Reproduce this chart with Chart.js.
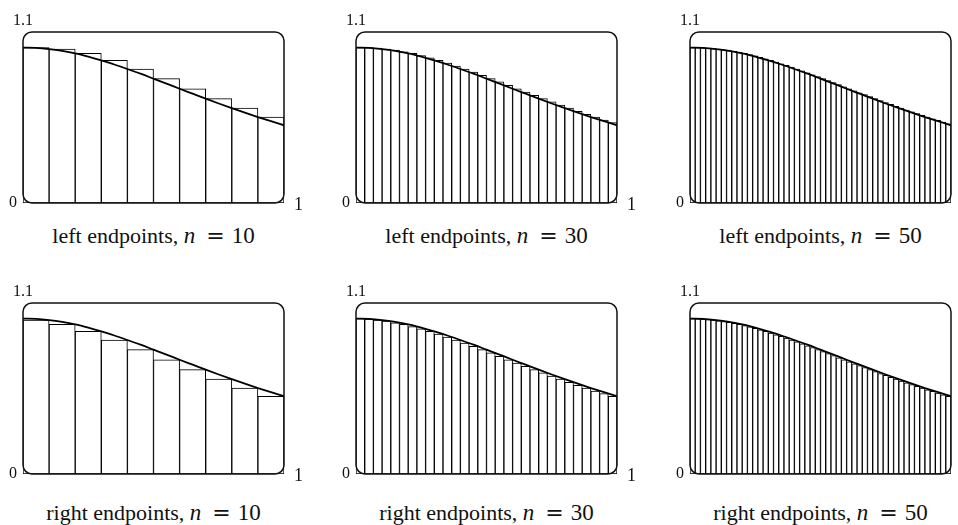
<!DOCTYPE html>
<html>
<head>
<meta charset="utf-8">
<script src="https://cdn.jsdelivr.net/npm/chart.js@4.4.1/dist/chart.umd.min.js"></script>
<style>
  html, body { margin: 0; padding: 0; background: #fff; overflow: hidden; }
  #wrap { position: relative; width: 958px; height: 525px; }
  canvas { position: absolute; }
  .cap {
    position: absolute; width: 320px; text-align: center;
    font-family: "Liberation Serif", "Times New Roman", serif; font-size: 22px; line-height: 22px;
    color: #111; white-space: nowrap;
  }
  .cap .m { font-size: 23px; }
  .cap i { font-style: italic; }
  .cap .eq { font-family: "DejaVu Serif", serif; font-size: 22px; margin: 0 7px 0 11px; }
</style>
</head>
<body>
<div id="wrap"></div>
<script>
// curve
const curveX = [0, 0.05, 0.1, 0.15, 0.2, 0.25, 0.3, 0.35, 0.4, 0.45, 0.5,
                0.55, 0.6, 0.65, 0.7, 0.75, 0.8, 0.85, 0.9, 0.95, 1];
const curveY = [1, 0.998, 0.990, 0.978, 0.962, 0.941, 0.917, 0.891, 0.862, 0.832, 0.800,
                0.768, 0.735, 0.703, 0.671, 0.640, 0.610, 0.581, 0.553, 0.526, 0.500];

// bar heights (rectangle tops)
const left10  = [1.000, 0.990, 0.962, 0.917, 0.862, 0.800, 0.735, 0.671, 0.610, 0.552];
const right10 = [0.990, 0.962, 0.917, 0.862, 0.800, 0.735, 0.671, 0.610, 0.552, 0.500];

const left30 = [1.000, 0.999, 0.996, 0.990, 0.983, 0.973, 0.962, 0.948, 0.934, 0.917,
                0.900, 0.881, 0.862, 0.842, 0.821, 0.800, 0.779, 0.757, 0.735, 0.714,
                0.692, 0.671, 0.650, 0.630, 0.610, 0.590, 0.571, 0.552, 0.534, 0.517];
const right30 = [0.999, 0.996, 0.990, 0.983, 0.973, 0.962, 0.948, 0.934, 0.917, 0.900,
                 0.881, 0.862, 0.842, 0.821, 0.800, 0.779, 0.757, 0.735, 0.714, 0.692,
                 0.671, 0.650, 0.630, 0.610, 0.590, 0.571, 0.552, 0.534, 0.517, 0.500];

const left50 = [1.000, 1.000, 0.998, 0.996, 0.994, 0.990, 0.986, 0.981, 0.975, 0.969,
                0.962, 0.954, 0.946, 0.937, 0.927, 0.917, 0.907, 0.896, 0.885, 0.874,
                0.862, 0.850, 0.838, 0.825, 0.813, 0.800, 0.787, 0.774, 0.761, 0.748,
                0.735, 0.722, 0.709, 0.697, 0.684, 0.671, 0.659, 0.646, 0.634, 0.622,
                0.610, 0.598, 0.586, 0.575, 0.564, 0.553, 0.542, 0.531, 0.520, 0.510];
const right50 = [1.000, 0.998, 0.996, 0.994, 0.990, 0.986, 0.981, 0.975, 0.969, 0.962,
                 0.954, 0.946, 0.937, 0.927, 0.917, 0.907, 0.896, 0.885, 0.874, 0.862,
                 0.850, 0.838, 0.825, 0.813, 0.800, 0.787, 0.774, 0.761, 0.748, 0.735,
                 0.722, 0.709, 0.697, 0.684, 0.671, 0.659, 0.646, 0.634, 0.622, 0.610,
                 0.598, 0.586, 0.575, 0.564, 0.553, 0.542, 0.531, 0.520, 0.510, 0.500];

const yTicks = [0, 1.1];
const yLabels = ['0', '1.1'];
const xTicks = [0, 1];
const xLabels = ['0', '1'];

const panels = [
  { vals: left10,  caption: 'left endpoints',  col: 0, row: 0 },
  { vals: left30,  caption: 'left endpoints',  col: 1, row: 0 },
  { vals: left50,  caption: 'left endpoints',  col: 2, row: 0 },
  { vals: right10, caption: 'right endpoints', col: 0, row: 1 },
  { vals: right30, caption: 'right endpoints', col: 1, row: 1 },
  { vals: right50, caption: 'right endpoints', col: 2, row: 1 }
];

// layout
const colLeft = [23, 356, 690];
const rowTop = [32, 303];
const capBase = [243, 520];
const boxW = 261, boxH = 171;
const pad = { left: 20, right: 20, top: 30, bottom: 20 };

const framePlugin = {
  id: 'frame',
  afterDraw(chart) {
    const { ctx, chartArea: a, scales: { x, y } } = chart;
    ctx.save();
    ctx.strokeStyle = '#111';
    ctx.lineWidth = 1.5;
    ctx.beginPath();
    ctx.roundRect(a.left, a.top, a.right - a.left, a.bottom - a.top, 9);
    ctx.stroke();

    ctx.fillStyle = '#111';
    ctx.font = '16px "Liberation Serif"';
    ctx.textBaseline = 'alphabetic';
    ctx.textAlign = 'center';
    ctx.fillText(yLabels[1], a.left, y.getPixelForValue(yTicks[1]) - 7);
    ctx.textAlign = 'right';
    ctx.fillText(yLabels[0], a.left - 6, y.getPixelForValue(yTicks[0]) + 4);
    ctx.font = '18px "Liberation Serif"';
    ctx.textAlign = 'left';
    ctx.fillText(xLabels[1], x.getPixelForValue(xTicks[1]) + 10, y.getPixelForValue(yTicks[0]) + 7);
    ctx.restore();
  }
};

const wrap = document.getElementById('wrap');

panels.forEach(p => {
  const n = p.vals.length;
  const cv = document.createElement('canvas');
  cv.width = boxW + pad.left + pad.right;
  cv.height = boxH + pad.top + pad.bottom;
  cv.style.left = (colLeft[p.col] - pad.left) + 'px';
  cv.style.top = (rowTop[p.row] - pad.top) + 'px';
  wrap.appendChild(cv);

  const cap = document.createElement('div');
  cap.className = 'cap';
  cap.innerHTML = p.caption + ', <span class="m"><i>n</i><span class="eq">=</span>' + n + '</span>';
  cap.style.left = (colLeft[p.col] + boxW / 2 - 160) + 'px';
  cap.style.top = (capBase[p.row] - 18) + 'px';
  wrap.appendChild(cap);

  new Chart(cv, {
    type: 'bar',
    data: {
      datasets: [
        {
          type: 'line',
          data: curveX.map((x, i) => ({ x: x, y: curveY[i] })),
          borderColor: '#000',
          borderWidth: 1.8,
          pointRadius: 0,
          cubicInterpolationMode: 'monotone',
          fill: false,
          order: 0
        },
        {
          type: 'bar',
          data: p.vals.map((v, i) => ({ x: (i + 0.5) / n, y: v })),
          backgroundColor: '#fff',
          borderColor: '#000',
          borderWidth: 1,
          borderSkipped: false,
          barPercentage: 1,
          categoryPercentage: 1,
          order: 1
        }
      ]
    },
    options: {
      responsive: false,
      animation: false,
      devicePixelRatio: 1,
      layout: { padding: pad },
      plugins: { legend: { display: false }, tooltip: { enabled: false } },
      scales: {
        x: {
          type: 'linear', min: 0, max: 1, offset: false, display: false,
          afterBuildTicks: s => { s.ticks = xTicks.map(v => ({ value: v })); }
        },
        y: { min: 0, max: 1.1, display: false }
      }
    },
    plugins: [framePlugin]
  });
});
</script>
</body>
</html>
